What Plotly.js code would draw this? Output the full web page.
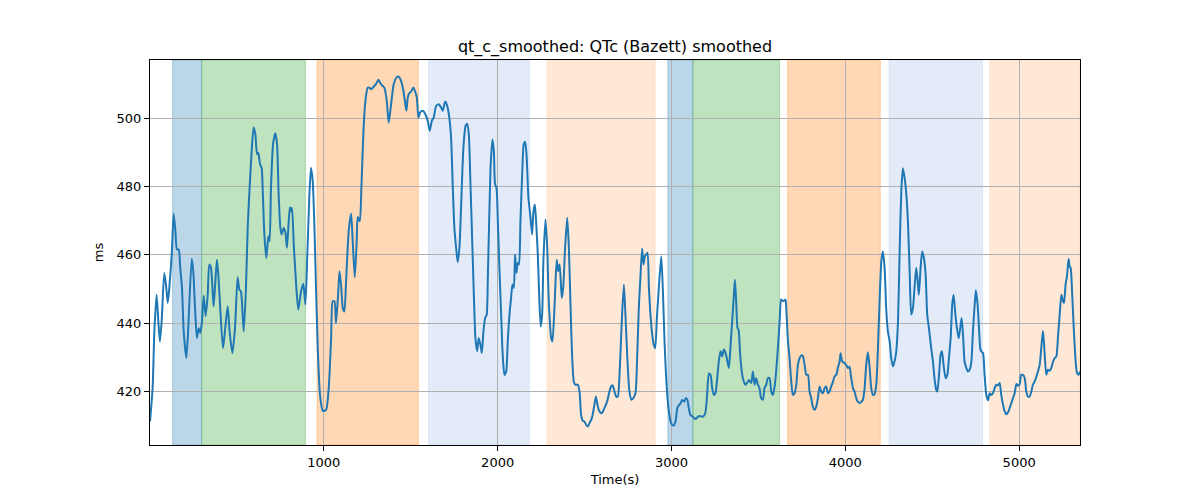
<!DOCTYPE html>
<html>
<head>
<meta charset="utf-8">
<script src="https://cdn.plot.ly/plotly-3.0.1.min.js"></script>
<style>html,body{margin:0;padding:0;background:#fff;}#chart{width:1200px;height:500px;}</style>
</head>
<body>
<div id="chart"></div>
<script>
const chartTitle = "qt_c_smoothed: QTc (Bazett) smoothed";
const xLabel = "Time(s)";
const yLabel = "ms";
const xTicks = [1000, 2000, 3000, 4000, 5000];
const yTicks = [420, 440, 460, 480, 500];

const timeS = [
0,15,25,38,48,57,67,82,92,102,111,125,136,146,155,165,174,184,194,209,220,240,249,259,270,280,289,299,309,320,332,341,351,366,376,385,393,405,420,433,447,458,474,489,504,514,523,539,552,562,573,585,596,606,616,623,633,642,650,658,669,681,688,696,708,721,731,740,750,757,769,779,788,798,805,811,817,827,842,853,
869,882,894,905,917,926,936,946,955,965,978,994,1013,1028,1042,1051,1061,1070,1082,1090,1099,1109,1118,1128,1143,1157,1166,1178,1189,1195,1207,1216,1228,1239,1253,1262,1272,1285,1300,1314,1329,1348,1362,1373,1387,1402,1419,1431,1444,1458,1469,1475,1483,1492,1502,1515,1527,1535,1544,1554,1569,1584,1598,1609,1621,1632,1646,1661,1675,1684,1698,1707,1719,1732,1742,1751,1761,1770,
1780,1790,1803,1815,1824,1834,1843,1853,1863,1872,1882,1891,1901,1909,1918,1928,1937,1943,1951,1960,1970,1978,1985,1993,2001,2010,2020,2029,2039,2049,2058,2068,2077,2085,2093,2100,2108,2116,2123,2131,2141,2150,2158,2166,2177,2189,2198,2206,2214,2221,2231,2240,2248,2256,2263,2275,2285,2294,2308,2315,2325,2333,2340,2348,2356,2361,2369,2377,2388,2400,2409,2419,2428,2438,2446,2461,2471,2480,2490,2499,2509,2519,2528,2542,2553,2565,2576,2586,2599,2614,2630,2643,2653,2662,2672,2682,2691,2701,
2714,2726,2735,2745,2758,2770,2781,2793,2803,2812,2822,2831,2839,2847,2854,2862,2870,2879,2889,2898,2906,2916,2927,2941,2950,2960,2973,2985,2998,3012,3023,3033,3042,3052,3061,3073,3081,3090,3100,3109,3123,3138,3152,3165,3180,3194,3205,3215,3225,3234,3244,3253,3263,3272,3282,3292,3301,3311,3318,3330,3340,3349,3359,3365,3372,3380,3386,3395,3407,3416,3426,3435,3445,3459,3468,3478,3487,3497,3506,3516,3526,3535,3545,3554,3564,3574,3583,
3593,3602,3612,3622,3631,3641,3650,3656,3662,3670,3679,3689,3698,3708,3718,3727,3737,3746,3756,3766,3775,3785,3794,3804,3813,3823,3833,3842,3852,3861,3871,3881,3890,3900,3909,3919,3929,3938,3948,3957,3967,3973,3982,3996,4005,4015,4024,4034,4044,4053,4063,4072,4082,4092,4101,4111,4120,4130,4140,4149,4159,4168,4178,4187,4197,4207,4216,4226,4235,4245,4255,4264,4274,4283,4293,4303,4312,4322,4331,4341,4351,4360,4370,4379,4389,4398,4408,4418,4423,
4433,4442,4452,4462,4471,4481,4494,4504,4514,4523,4529,4539,4548,4556,4565,4577,4587,4596,4606,4615,4623,4633,4642,4652,4661,4669,4677,4686,4696,4705,4715,4725,4734,4744,4751,4761,4769,4776,4782,4792,4801,4811,4821,4830,4840,4849,4859,4868,4878,4888,4897,4907,4916,4926,4936,4945,4955,4964,4974,4984,4993,5003,5012,5022,5032,5041,5051,5060,5070,5079,5089,5099,5108,5118,5127,5137,5147,5156,5166,5175,5185,5195,5204,5214,5223,5233,5243,5252,5258,5267,5275,5281,5285,5290,5296,5306,5315,5325,5333,5342,5350
];

const qtcMs = [
411.1,420.9,437.5,448.3,440.5,434.6,440.5,454.7,451.3,445.9,450.3,460.1,472.1,467.0,461.6,461.6,456.2,450.3,437.5,429.7,438.5,458.9,455.2,444.4,435.6,438.5,437.1,440.5,448.1,442.0,448.3,457.2,456.2,444.9,452.3,458.6,454.2,443.4,432.6,438.5,444.9,437.5,431.2,438.5,453.4,449.8,449.3,437.5,450.3,467.9,479.7,490.5,497.4,495.4,489.5,490.0,486.6,485.6,476.8,466.0,459.1,465.5,464.0,479.7,492.5,495.7,492.5,477.7,467.9,466.0,467.9,466.5,462.1,469.9,474.0,472.8,473.8,463.0,450.3,443.9,
449.3,451.5,445.4,460.1,477.7,485.6,481.7,467.9,450.3,432.6,418.9,414.2,414.5,420.9,435.6,446.4,446.4,440.0,448.3,455.2,451.3,444.4,443.4,452.3,467.0,472.1,464.1,453.4,464.1,471.1,469.9,479.7,496.4,505.2,509.1,509.1,508.6,509.3,510.1,511.4,510.1,509.1,505.2,498.8,504.2,510.1,512.1,512.3,511.1,508.1,504.2,502.3,506.2,507.5,507.9,509.1,507.7,506.2,500.3,501.8,502.3,501.3,499.3,496.4,499.3,500.3,503.7,504.2,503.2,502.3,505.0,504.2,501.3,494.4,479.7,467.9,462.1,457.9,
462.1,474.8,491.5,497.8,498.5,495.4,481.7,465.0,448.3,435.6,431.7,435.6,433.6,431.2,437.5,441.5,442.5,452.3,469.9,486.6,493.9,490.5,480.7,479.7,469.9,456.2,442.5,430.7,424.8,425.8,434.6,442.5,447.3,451.3,450.3,460.1,454.7,457.7,457.2,469.9,483.6,492.5,493.2,489.5,476.8,470.9,466.0,472.8,474.8,469.9,460.1,446.4,439.0,442.5,458.1,470.4,462.1,446.4,435.6,434.6,442.5,452.3,458.6,455.2,457.2,454.2,447.3,450.3,462.1,470.9,463.0,445.4,430.7,422.8,421.9,421.9,419.9,413.0,411.3,411.1,410.1,409.6,410.6,412.1,414.9,418.4,415.5,414.0,413.5,415.0,417.0,419.9,421.4,421.7,419.9,418.4,418.4,424.8,
440.5,451.3,442.5,430.7,419.9,417.5,418.0,419.5,430.7,444.4,454.2,461.9,457.2,459.6,460.1,460.6,450.3,442.5,436.6,433.6,432.6,441.5,450.3,459.6,450.3,434.6,420.9,414.0,410.6,409.9,411.1,414.9,415.9,416.4,417.4,416.9,417.9,417.7,414.9,413.0,412.5,411.8,412.5,412.7,412.5,413.5,418.9,425.2,424.7,420.9,418.9,419.4,423.8,428.7,431.7,430.2,432.2,431.2,429.7,426.8,433.6,440.5,448.3,452.7,446.4,438.5,438.0,430.7,424.8,422.8,421.9,422.4,423.3,422.4,425.8,421.9,423.8,421.9,420.9,417.9,417.5,420.9,421.9,423.8,423.8,419.9,418.9,
421.3,425.7,432.6,440.5,446.9,446.4,446.6,446.9,442.5,434.6,429.7,422.8,418.9,419.4,421.9,427.7,429.7,430.5,430.2,427.7,424.8,424.8,419.9,417.9,415.5,414.5,415.5,417.9,421.4,419.9,419.4,420.9,421.4,419.4,419.9,421.4,422.8,424.3,424.8,426.8,428.7,431.1,428.7,428.2,427.7,426.8,427.2,423.8,420.9,419.9,417.9,416.9,416.5,416.9,417.4,420.9,427.7,431.4,426.8,420.9,418.9,419.1,421.9,431.7,446.4,458.1,461.0,456.2,444.4,437.5,434.6,429.7,427.3,428.7,431.7,440.5,460.1,478.7,485.4,482.6,477.7,469.9,455.2,442.5,444.4,450.3,456.2,451.3,448.3,
456.2,461.0,459.1,454.2,442.5,438.5,432.6,428.7,423.3,420.4,419.9,424.8,430.7,431.7,427.7,423.8,424.8,429.7,435.6,445.4,448.3,442.5,438.5,435.5,438.5,441.5,436.6,428.7,426.8,425.8,426.3,428.7,437.5,445.4,449.6,445.4,438.5,432.6,431.7,431.2,424.8,418.9,417.3,419.4,418.9,419.4,420.9,421.9,421.7,422.4,418.9,416.0,414.2,413.2,413.8,415.0,416.5,417.9,419.4,422.1,421.6,422.1,424.8,424.8,423.8,419.9,418.4,418.4,419.9,421.9,422.8,424.3,425.8,427.7,432.6,437.7,430.7,424.8,426.3,426.0,426.8,428.7,429.7,430.2,435.6,442.5,448.3,446.4,445.9,451.3,453.8,457.2,458.8,456.6,456.2,447.3,437.5,428.7,425.3,424.8,425.8
];

// Shaded phases (start, end in seconds) and their style kind
const bandStart = [130, 297, 961, 1602, 2283, 2979, 3123, 3668, 4251, 4830];
const bandEnd   = [297, 894, 1544, 2183, 2906, 3123, 3622, 4201, 4790, 5350];
const bandKind  = ["blue", "green", "orange", "lightblue", "lightorange", "blue", "green", "orange", "lightblue", "lightorange"];

const kindStyle = {
  blue:        {fill: "rgba(31,119,180,0.3)",  edge: "rgba(31,119,180,0.3)"},
  green:       {fill: "rgba(44,160,44,0.3)",   edge: "rgba(44,160,44,0.3)"},
  orange:      {fill: "rgba(255,127,14,0.3)",  edge: "rgba(255,127,14,0.3)"},
  lightblue:   {fill: "rgba(80,130,210,0.16)", edge: "rgba(80,130,210,0.12)"},
  lightorange: {fill: "rgba(255,127,14,0.17)", edge: "rgba(255,127,14,0.12)"}
};

const shapes = bandStart.map((s, i) => ({
  type: "rect", xref: "x", yref: "paper",
  x0: s, x1: bandEnd[i], y0: 0, y1: 1,
  fillcolor: kindStyle[bandKind[i]].fill,
  line: {color: kindStyle[bandKind[i]].edge, width: 1},
  layer: "below"
}));

const trace = {
  x: timeS, y: qtcMs, type: "scatter", mode: "lines",
  line: {color: "#1f77b4", width: 2, shape: "spline", smoothing: 0.6},
  hoverinfo: "x+y"
};

const fontFam = "DejaVu Sans, sans-serif";
const layout = {
  width: 1200, height: 500,
  margin: {l: 150, r: 120, t: 60, b: 55},
  paper_bgcolor: "#fff", plot_bgcolor: "rgba(0,0,0,0)",
  font: {family: fontFam, size: 13, color: "#000"},
  title: {text: chartTitle, font: {family: fontFam, size: 16, color: "#000"}, x: 0.5125, xanchor: "center", y: 0.908, yanchor: "middle"},
  showlegend: false,
  xaxis: {
    range: [0, 5350], tickvals: xTicks, ticktext: xTicks.map(String),
    showgrid: true, gridcolor: "#b0b0b0", gridwidth: 1,
    showline: true, mirror: true, linecolor: "#000", linewidth: 1,
    ticks: "outside", ticklen: 5, tickcolor: "#000", zeroline: false,
    tickfont: {family: fontFam, size: 13},
    title: {text: xLabel, font: {family: fontFam, size: 13}, standoff: 6}
  },
  yaxis: {
    range: [404.2, 517.2], tickvals: yTicks, ticktext: yTicks.map(String),
    showgrid: true, gridcolor: "#b0b0b0", gridwidth: 1,
    showline: true, mirror: true, linecolor: "#000", linewidth: 1,
    ticks: "outside", ticklen: 5, tickcolor: "#000", zeroline: false,
    tickfont: {family: fontFam, size: 13},
    title: {text: yLabel, font: {family: fontFam, size: 13}, standoff: 10}
  },
  shapes: shapes
};

Plotly.newPlot("chart", [trace], layout, {displayModeBar: false, staticPlot: true});
</script>
</body>
</html>
